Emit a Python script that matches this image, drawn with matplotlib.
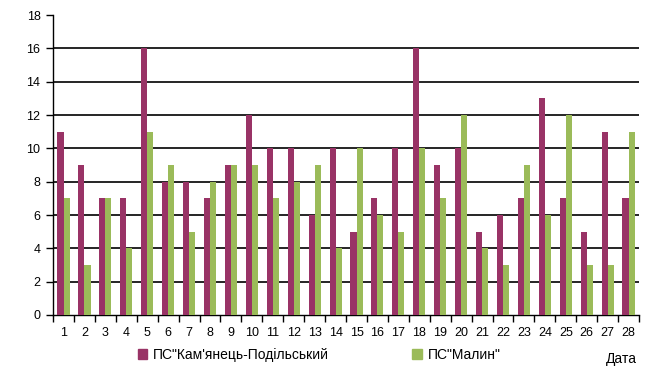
import numpy as np
import matplotlib.pyplot as plt
from matplotlib.patches import Patch

plt.rcParams['font.family'] = ['Liberation Sans', 'DejaVu Sans']
plt.rcParams['font.size'] = 9

days = list(range(1, 29))
kamianets = [11, 9, 7, 7, 16, 8, 8, 7, 9, 12, 10, 10, 6, 10, 5, 7, 10, 16, 9, 10, 5, 6, 7, 13, 7, 5, 11, 7]
malyn = [7, 3, 7, 4, 11, 9, 5, 8, 9, 9, 7, 8, 9, 4, 10, 6, 5, 10, 7, 12, 4, 3, 9, 6, 12, 3, 3, 11]
labels = ['ПС"Кам\'янець-Подільський', 'ПС"Малин"']
colors = ['#993366', '#9BBB59']

fig = plt.figure(figsize=(6.55, 3.77), dpi=100)
ax = fig.add_axes([0.081, 0.1645, 0.8946, 0.7955])

x = np.arange(len(days))
w = 0.29
ax.bar(x - w / 2, kamianets, w, color=colors[0], zorder=3)
ax.bar(x + w / 2, malyn, w, color=colors[1], zorder=3)

ax.set_xlim(-0.5, len(days) - 0.5)
ax.set_ylim(0, 18)
ax.set_yticks(range(0, 19, 2))
for y in range(2, 18, 2):
    ax.axhline(y, color='black', lw=1.2, zorder=1)

ax.set_xticks(x)
ax.set_xticklabels([str(d) for d in days])
ax.set_xticks(np.arange(-0.5, len(days)), minor=True)
ax.tick_params(axis='x', which='major', length=0, pad=9)
ax.tick_params(axis='x', which='minor', length=5, width=1, direction='out')
ax.tick_params(axis='y', length=5, width=1, direction='out', pad=4)

for s in ['top', 'right']:
    ax.spines[s].set_visible(False)
ax.spines['left'].set_linewidth(1)
ax.spines['bottom'].set_linewidth(1)

handles = [Patch(color=c) for c in colors]
fig.legend(handles, labels, loc='center', bbox_to_anchor=(0.487, 0.058), ncol=2,
           frameon=False, handlelength=0.7, handleheight=0.7, handletextpad=0.4,
           columnspacing=6.0, fontsize=10)
fig.text(0.972, 0.047, 'Дата', ha='right', va='center', fontsize=10)

fig.savefig('out.png', dpi=100)
